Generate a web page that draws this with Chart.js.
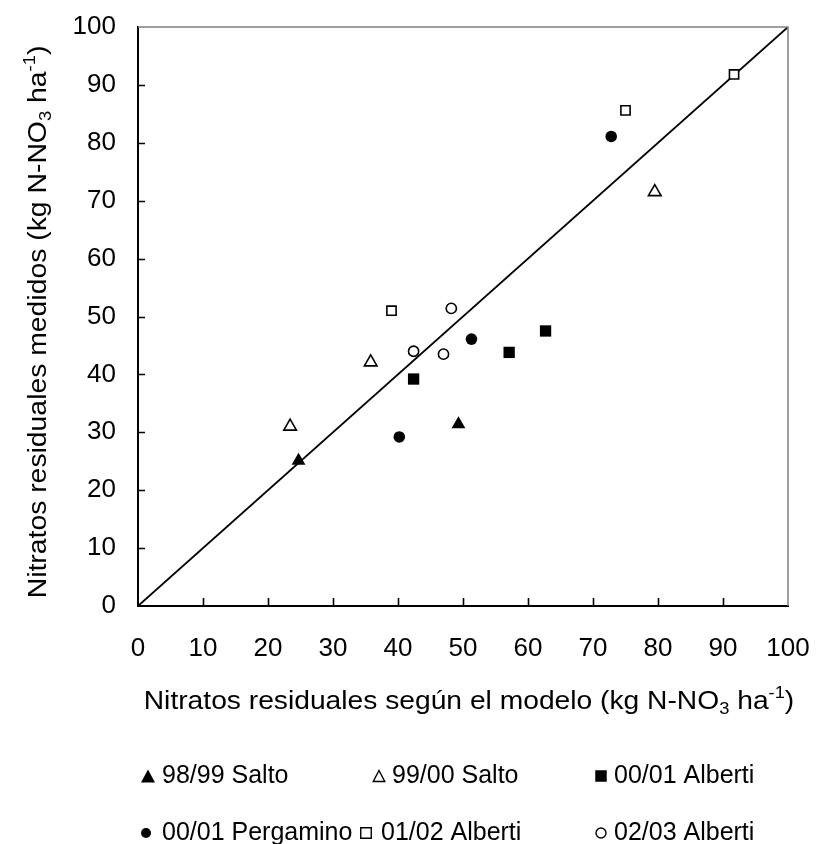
<!DOCTYPE html>
<html><head><meta charset="utf-8">
<script src="https://cdn.jsdelivr.net/npm/chart.js@4.4.1/dist/chart.umd.min.js"></script>
<style>html,body{margin:0;padding:0;background:#fff;}canvas{display:block;}</style>
</head><body>
<canvas id="c" width="816" height="844"></canvas>
<script>
// ---- data ----
const seriesLabels = ['98/99 Salto', '99/00 Salto', '00/01 Alberti', '00/01 Pergamino', '01/02 Alberti', '02/03 Alberti'];
const salto9899X = [24.7, 49.3];
const salto9899Y = [25.1, 31.4];
const salto9900X = [23.4, 35.8, 79.5];
const salto9900Y = [31.0, 42.1, 71.5];
const alberti0001X = [42.4, 57.1, 62.7];
const alberti0001Y = [39.2, 43.8, 47.5];
const pergamino0001X = [40.2, 51.3, 72.8];
const pergamino0001Y = [29.2, 46.1, 81.1];
const alberti0102X = [39.0, 75.0, 91.7];
const alberti0102Y = [51.0, 85.6, 91.8];
const alberti0203X = [42.4, 47.0, 48.2];
const alberti0203Y = [44.0, 43.5, 51.4];
const refLineX = [0, 100];
const refLineY = [0, 100];
const xTickValues = [0, 10, 20, 30, 40, 50, 60, 70, 80, 90, 100];
const yTickValues = [0, 10, 20, 30, 40, 50, 60, 70, 80, 90, 100];
const xTitleParts = [['Nitratos residuales según el modelo (kg N-NO', ''], ['3', 'sub'], [' ha', ''], ['-1', 'sup'], [')', '']];
const yTitleParts = [['Nitratos residuales medidos (kg N-NO', ''], ['3', 'sub'], [' ha', ''], ['-1', 'sup'], [')', '']];

// ---- styles ----
const FONT = '"Liberation Sans", Arial, sans-serif';
const FS = 26;
const seriesX = [salto9899X, salto9900X, alberti0001X, pergamino0001X, alberti0102X, alberti0203X];
const seriesY = [salto9899Y, salto9900Y, alberti0001Y, pergamino0001Y, alberti0102Y, alberti0203Y];
const pStyle = ['triangle', 'triangle', 'rect', 'circle', 'rect', 'circle'];
const pFilled = [true, false, true, true, false, false];
const pRadius = [8, 7.3, 8, 5.8, 6.5, 5.1];

const datasets = seriesLabels.map((lab, k) => ({
  label: lab,
  data: seriesX[k].map((x, i) => ({x: x, y: seriesY[k][i]})),
  pointStyle: pStyle[k],
  pointRadius: pRadius[k],
  backgroundColor: pFilled[k] ? '#000' : '#fff',
  borderColor: '#000',
  borderWidth: pFilled[k] ? 0 : 1.6,
  showLine: false
}));
datasets.push({
  label: 'y = x',
  data: refLineX.map((x, i) => ({x: x, y: refLineY[i]})),
  showLine: true,
  borderColor: '#000',
  borderWidth: 1.8,
  pointRadius: 0,
  fill: false
});

function drawRich(ctx, parts, size, sx) {
  const fontFor = t => (t ? size * 0.65 : size) + 'px ' + FONT;
  let w = 0;
  parts.forEach(p => { ctx.font = fontFor(p[1]); w += ctx.measureText(p[0]).width; });
  ctx.scale(sx, 1);
  let x = -w / 2;
  ctx.textAlign = 'left';
  ctx.textBaseline = 'alphabetic';
  parts.forEach(p => {
    ctx.font = fontFor(p[1]);
    const dy = p[1] === 'sub' ? size * 0.18 : (p[1] === 'sup' ? -size * 0.42 : 0);
    ctx.fillText(p[0], x, dy);
    x += ctx.measureText(p[0]).width;
  });
}

function drawMarker(ctx, style, filled, cx, cy, w, h) {
  ctx.beginPath();
  if (style === 'triangle') {
    ctx.moveTo(cx, cy - h / 2);
    ctx.lineTo(cx + w / 2, cy + h / 2);
    ctx.lineTo(cx - w / 2, cy + h / 2);
    ctx.closePath();
  } else if (style === 'rect') {
    ctx.rect(cx - w / 2, cy - h / 2, w, h);
  } else {
    ctx.arc(cx, cy, w / 2, 0, Math.PI * 2);
  }
  if (filled) { ctx.fillStyle = '#000'; ctx.fill(); }
  else { ctx.fillStyle = '#fff'; ctx.fill(); ctx.lineWidth = 1.4; ctx.strokeStyle = '#000'; ctx.stroke(); }
}

const decor = {
  id: 'decor',
  afterDraw(chart) {
    const ctx = chart.ctx;
    const a = chart.chartArea;
    const xs = chart.scales.x, ys = chart.scales.y;
    ctx.save();
    // top / right frame
    ctx.strokeStyle = '#808080';
    ctx.lineWidth = 1.5;
    ctx.beginPath();
    ctx.moveTo(a.left, a.top); ctx.lineTo(a.right, a.top); ctx.lineTo(a.right, a.bottom);
    ctx.stroke();
    // inward ticks
    ctx.strokeStyle = '#000';
    ctx.lineWidth = 1.6;
    ctx.beginPath();
    xTickValues.forEach(v => {
      if (v === 0 || v === 100) return;
      const px = Math.round(xs.getPixelForValue(v)) + 0.5;
      ctx.moveTo(px, a.bottom); ctx.lineTo(px, a.bottom - 8);
    });
    yTickValues.forEach(v => {
      if (v === 0 || v === 100) return;
      const py = Math.round(ys.getPixelForValue(v)) + 0.5;
      ctx.moveTo(a.left, py); ctx.lineTo(a.left + 7, py);
    });
    ctx.stroke();
    // axis titles
    ctx.fillStyle = '#000';
    ctx.save();
    ctx.translate(469, 709);
    drawRich(ctx, xTitleParts, FS, 1.085);
    ctx.restore();
    ctx.save();
    ctx.translate(46, 322);
    ctx.rotate(-Math.PI / 2);
    drawRich(ctx, yTitleParts, FS, 1.09);
    ctx.restore();
    // legend
    const pos = [[148, 162, 783], [379, 392, 783], [601, 614, 783], [146, 162, 840], [366, 381, 840], [601, 614, 840]];
    const msz = [[14, 13], [11.5, 11], [11.5, 11.5], [10, 10], [10.5, 10.5], [10, 10]];
    seriesLabels.forEach((lab, k) => {
      const p = pos[k];
      drawMarker(ctx, pStyle[k], pFilled[k], p[0], p[2] - 7, msz[k][0], msz[k][1]);
      ctx.fillStyle = '#000';
      ctx.font = '25px ' + FONT;
      ctx.textAlign = 'left';
      ctx.textBaseline = 'alphabetic';
      ctx.fillText(lab, p[1], p[2]);
    });
    ctx.restore();
  }
};

new Chart(document.getElementById('c'), {
  type: 'scatter',
  data: { datasets: datasets },
  plugins: [decor],
  options: {
    responsive: false,
    animation: false,
    events: [],
    layout: { padding: { top: 27, right: 28, left: 0, bottom: 0 } },
    plugins: { legend: { display: false }, tooltip: { enabled: false } },
    scales: {
      x: {
        type: 'linear', min: 0, max: 100,
        afterBuildTicks: s => { s.ticks = xTickValues.map(v => ({value: v})); },
        afterFit: s => { s.height = 844 - 606; s.paddingLeft = 0; s.paddingRight = 0; },
        grid: { drawOnChartArea: false, drawTicks: false },
        border: { color: '#000', width: 2 },
        ticks: { color: '#000', font: { family: FONT, size: FS }, padding: 27, maxRotation: 0, autoSkip: false }
      },
      y: {
        type: 'linear', min: 0, max: 100,
        afterBuildTicks: s => { s.ticks = yTickValues.map(v => ({value: v})); },
        afterFit: s => { s.width = 138; s.paddingTop = 0; s.paddingBottom = 0; },
        grid: { drawOnChartArea: false, drawTicks: false },
        border: { color: '#000', width: 2 },
        ticks: { color: '#000', font: { family: FONT, size: FS }, padding: 22, autoSkip: false }
      }
    }
  }
});
</script>
</body></html>
